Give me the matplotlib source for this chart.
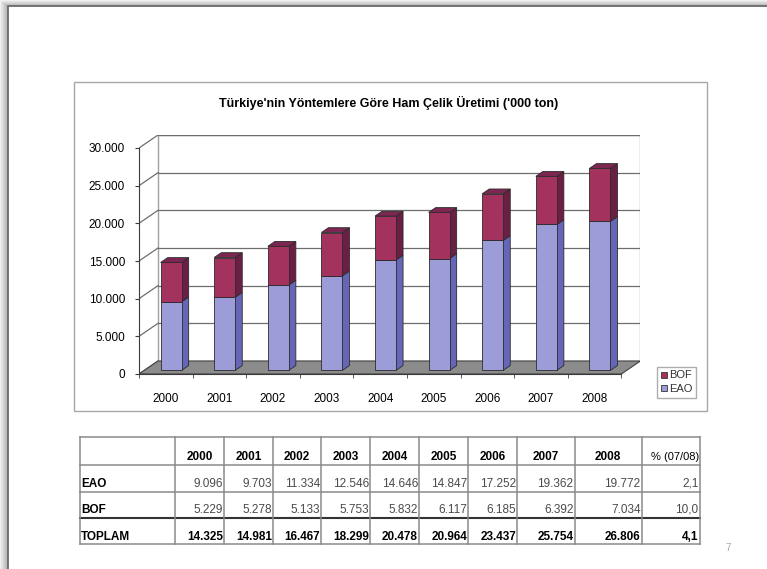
import matplotlib.pyplot as plt
from matplotlib.patches import Rectangle, Polygon
from matplotlib.lines import Line2D
import numpy as np

plt.rcParams['font.family'] = ['Liberation Sans', 'DejaVu Sans']

years = ['2000', '2001', '2002', '2003', '2004', '2005', '2006', '2007', '2008']
eao = [9096, 9703, 11334, 12546, 14646, 14847, 17252, 19362, 19772]
bof = [5229, 5278, 5133, 5753, 5832, 6117, 6185, 6392, 7034]
toplam = [14325, 14981, 16467, 18299, 20478, 20964, 23437, 25754, 26806]
degisim = [2.1, 10.0, 4.1]  # % (07/08) for EAO, BOF, TOPLAM
y_ticks = [0, 5000, 10000, 15000, 20000, 25000, 30000]
title = "Türkiye'nin Yöntemlere Göre Ham Çelik Üretimi ('000 ton)"

EAO_COL = ('#9c9cd8', '#6666b8', '#8080c8')
BOF_COL = ('#a3325f', '#6c1f45', '#7e2652')
EDGE = '#2b2b2b'


def tr(v):
    return f'{v:,}'.replace(',', '.')


W, H = 767, 569
fig = plt.figure(figsize=(W / 100, H / 100), dpi=100)

# pixel overlay for the slide, chart box, title, legend and table
bg = fig.add_axes([0, 0, 1, 1])
bg.set_xlim(0, W)
bg.set_ylim(H, 0)
bg.axis('off')

# slide shadow / frame
for i in range(8):
    c = 0.94 - 0.035 * i
    bg.add_patch(Rectangle((i, 0), 1, H, fc=(c, c, c), ec='none'))
for i in range(6):
    c = 0.94 - 0.045 * i
    bg.add_patch(Rectangle((i, i), W, 1, fc=(c, c, c), ec='none'))
bg.plot([8, 8, W], [H, 6, 6], color='#6a6a6a', lw=1.3)

# chart box
bg.add_patch(Rectangle((74, 82), 633, 329, fc='white', ec='#a8a8a8', lw=1))
bg.text(389, 103, title, ha='center', va='center', fontsize=9, fontweight='bold')

# ---- pseudo 3D chart ----
PX_CAT = 53.6
DEPTH_PX = (19, 13)
X0, Y0 = 139, 374
PX_PER = 226 / 30000
DX = DEPTH_PX[0] / PX_CAT
DY = DEPTH_PX[1] / PX_PER
ax_w = 9 * PX_CAT + DEPTH_PX[0]
ax_h = 30000 * PX_PER + DEPTH_PX[1]
ax = fig.add_axes([X0 / W, 1 - Y0 / H, ax_w / W, ax_h / H])
ax.set_xlim(-0.5, 8.5 + DX)
ax.set_ylim(0, 30000 + DY)
ax.patch.set_visible(False)


def p(x, y, z):
    return (x + z * DX, y + z * DY)


# back wall + gridlines
ax.add_patch(Rectangle(p(-0.5, 0, 1), 9, 30000, fc='white', ec='#a0a0a0', lw=1, zorder=0))
for v in y_ticks[1:]:
    ax.plot([p(-0.5, v, 1)[0], p(8.5, v, 1)[0]], [v + DY, v + DY], color='#6e6e6e', lw=0.9, zorder=1)
for v in y_ticks:
    ax.plot([-0.5, p(-0.5, v, 1)[0]], [v, v + DY], color='#6e6e6e', lw=0.9, zorder=1)

# floor
ax.add_patch(Polygon([p(-0.5, 0, 0), p(8.5, 0, 0), p(8.5, 0, 1), p(-0.5, 0, 1)],
                     fc='#8c8c8c', ec='#444444', lw=0.8, zorder=1))

ZF, ZB = 0.28, 0.65
BW = 21 / PX_CAT
x = np.arange(len(years))


def sides(xc, y0, y1, cols, top):
    xr = xc + BW / 2
    xl = xc - BW / 2
    ax.add_patch(Polygon([p(xr, y0, ZF), p(xr, y0, ZB), p(xr, y1, ZB), p(xr, y1, ZF)],
                         fc=cols[1], ec=EDGE, lw=0.6, zorder=2))
    if top:
        ax.add_patch(Polygon([p(xl, y1, ZF), p(xr, y1, ZF), p(xr, y1, ZB), p(xl, y1, ZB)],
                             fc=cols[2], ec=EDGE, lw=0.6, zorder=2))


for i in x:
    sides(i, 0, eao[i], EAO_COL, False)
    sides(i, eao[i], eao[i] + bof[i], BOF_COL, True)

ax.bar(x + ZF * DX, eao, BW, bottom=ZF * DY, color=EAO_COL[0], ec=EDGE, lw=0.6, zorder=3)
ax.bar(x + ZF * DX, bof, BW, bottom=np.array(eao) + ZF * DY, color=BOF_COL[0], ec=EDGE, lw=0.6, zorder=3)

for s in ['top', 'right']:
    ax.spines[s].set_visible(False)
ax.spines['left'].set_bounds(0, 30000)
ax.spines['bottom'].set_bounds(-0.5, 8.5)
for s in ['left', 'bottom']:
    ax.spines[s].set_color('#3a3a3a')
    ax.spines[s].set_zorder(4)
ax.set_yticks(y_ticks, [tr(v) for v in y_ticks])
ax.tick_params(axis='y', length=3, pad=7, labelsize=8.5, colors='#3a3a3a', labelcolor='black')
ax.set_xticks(x, years)
ax.set_xticks(np.arange(-0.5, 9, 1), minor=True)
ax.tick_params(axis='x', which='major', length=0, pad=14, labelsize=8.5)
ax.tick_params(axis='x', which='minor', length=3, colors='#3a3a3a')

# legend
handles = [Line2D([], [], ls='', marker='s', ms=5, mfc=BOF_COL[0], mec='#333333', mew=0.6),
           Line2D([], [], ls='', marker='s', ms=5, mfc=EAO_COL[0], mec='#333333', mew=0.6)]
leg = bg.legend(handles, ['BOF', 'EAO'], loc='upper left', bbox_to_anchor=(657, 366.5),
                bbox_transform=bg.transData, fontsize=8, frameon=True, fancybox=False,
                borderpad=0.35, labelspacing=0.35, handlelength=0.6, handletextpad=0.15,
                borderaxespad=0)
leg.get_frame().set_edgecolor('#999999')
leg.get_frame().set_linewidth(1)
for t in leg.get_texts():
    t.set_color('#333333')

# ---- table ----
col_edges = [80, 175.4, 223.9, 272.8, 321.2, 370.1, 419, 468.4, 517.3, 574.5, 641.5, 699.6]
row_edges = [437.3, 465, 491.5, 518.3, 544.3]
row_text_y = [456.5, 483.5, 510, 536.5]

for k, yy in enumerate(row_edges):
    if k == 3:
        bg.plot([col_edges[0], col_edges[-1]], [yy, yy], color='#333333', lw=1.5)
    else:
        bg.plot([col_edges[0], col_edges[-1]], [yy, yy], color='#8a8a8a', lw=1.1)
for xx in col_edges:
    bg.plot([xx, xx], [row_edges[0], row_edges[-1]], color='#8a8a8a', lw=1.1)

FS = 8.5
for j, yr in enumerate(years):
    bg.text((col_edges[j + 1] + col_edges[j + 2]) / 2, row_text_y[0], yr,
            ha='center', va='center', fontsize=FS, fontweight='bold')
bg.text(col_edges[-1] - 0.5, row_text_y[0], '% (07/08)', ha='right', va='center', fontsize=FS - 0.5)

rows = [('EAO', eao), ('BOF', bof), ('TOPLAM', toplam)]
for r, (name, vals) in enumerate(rows):
    yy = row_text_y[r + 1]
    bold = name == 'TOPLAM'
    col = 'black' if bold else '#4a4a4a'
    wt = 'bold' if bold else 'normal'
    bg.text(col_edges[0] + 1, yy, name, ha='left', va='center', fontsize=FS, fontweight='bold')
    for j, v in enumerate(vals):
        bg.text(col_edges[j + 2] - 1, yy, tr(v), ha='right', va='center',
                fontsize=FS, fontweight=wt, color=col)
    bg.text(col_edges[-1] - 1, yy, f'{degisim[r]:.1f}'.replace('.', ','), ha='right', va='center',
            fontsize=FS, fontweight=wt, color=col)

bg.text(728, 548, '7', ha='center', va='center', fontsize=7, color='#a8a8a8')

fig.savefig('out.png', dpi=100)
